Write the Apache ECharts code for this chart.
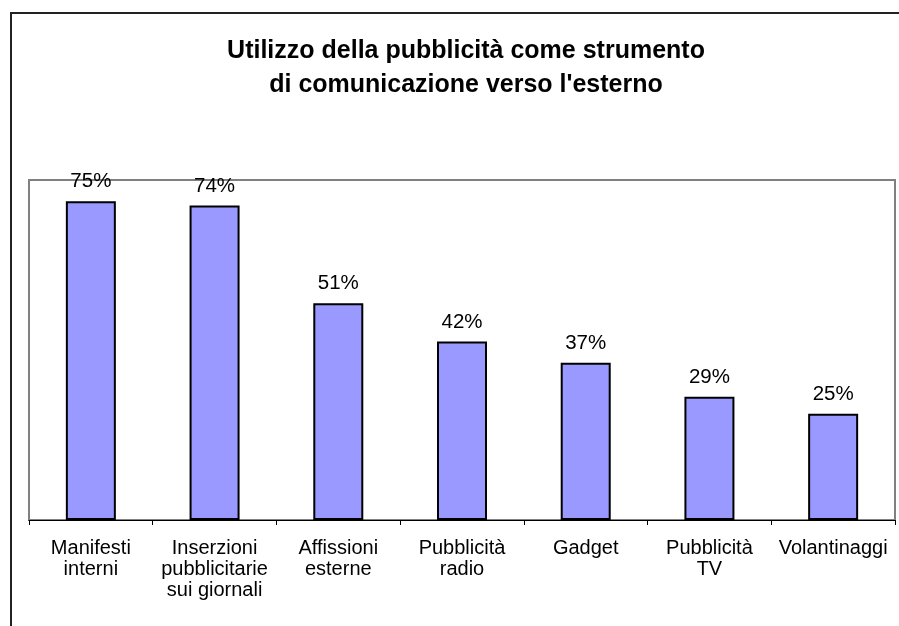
<!DOCTYPE html>
<html>
<head>
<meta charset="utf-8">
<script src="https://cdn.jsdelivr.net/npm/echarts@6/dist/echarts.min.js"></script>
<style>
  html, body { margin: 0; padding: 0; background: #fff; }
  #chart { width: 899px; height: 626px; }
</style>
</head>
<body>
<div id="chart"></div>
<script>
// categorie e valori (%)
const categories = [
  'Manifesti\ninterni',
  'Inserzioni\npubblicitarie\nsui giornali',
  'Affissioni\nesterne',
  'Pubblicità\nradio',
  'Gadget',
  'Pubblicità\nTV',
  'Volantinaggi'
];
const values = [75, 74, 51, 42, 37, 29, 25];
const titleLines = [
  'Utilizzo della pubblicità come strumento',
  "di comunicazione verso l'esterno"
];

const chart = echarts.init(document.getElementById('chart'));
const font = 'Liberation Sans, Arial, sans-serif';

chart.setOption({
  backgroundColor: '#fff',
  animation: false,
  title: {
    text: titleLines.join('\n'),
    left: 461,
    top: 29,
    textAlign: 'center',
    textStyle: {
      fontFamily: font,
      fontSize: 25,
      fontWeight: 'bold',
      color: '#000',
      lineHeight: 34
    }
  },
  graphic: [{
    type: 'rect',
    shape: { x: 11, y: 13, width: 1000, height: 1000 },
    style: { fill: 'none', stroke: '#222', lineWidth: 2 },
    silent: true
  }],
  grid: {
    left: 29, right: 4, top: 180, bottom: 106,
    show: true,
    borderColor: '#808080',
    borderWidth: 2,
    backgroundColor: '#fff'
  },
  xAxis: {
    type: 'category',
    data: categories,
    axisLine: { lineStyle: { color: '#000', width: 1 } },
    axisTick: { show: true, length: 5, lineStyle: { color: '#000' } },
    axisLabel: {
      interval: 0,
      margin: 18,
      fontFamily: font,
      fontSize: 20,
      lineHeight: 21,
      color: '#000'
    }
  },
  yAxis: {
    type: 'value',
    min: 0,
    max: 80,
    show: false,
    splitLine: { show: false }
  },
  series: [{
    type: 'bar',
    data: values,
    barWidth: 50,
    itemStyle: { color: '#9999FF', borderColor: '#000', borderWidth: 2 },
    label: {
      show: true,
      position: 'top',
      distance: 9,
      formatter: '{c}%',
      fontFamily: font,
      fontSize: 20.5,
      color: '#000'
    }
  }]
});
</script>
</body>
</html>
